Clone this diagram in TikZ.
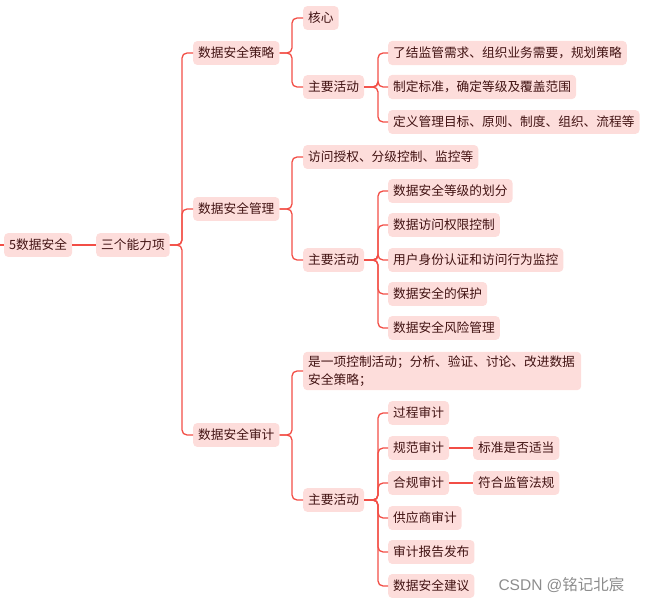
\documentclass[tikz,border=0pt]{standalone}
\usepackage{fontspec}
\setmainfont{Noto Sans CJK SC}
\usetikzlibrary{positioning}

\definecolor{linkred}{RGB}{242,78,70}
\definecolor{boxfill}{RGB}{253,221,219}
\definecolor{boxtext}{RGB}{65,18,18}

\tikzset{
	box/.style={fill=boxfill, rounded corners=4pt, anchor=west, text=boxtext,
		inner xsep=5pt, inner ysep=6pt, font=\fontsize{12.7}{17.5}\selectfont},
	link/.style={draw=linkred, line width=1.3pt, rounded corners=5pt}
}

\begin{document}
\begin{tikzpicture}[x=1pt,y=-1pt]
		\useasboundingbox (0,0) rectangle (646,604);
		% root and first level
		\node[box] (root) at (4,245) {5数据安全};
		\node[box] (cap) at (96,245) {三个能力项};
		\node[box] (s1) at (193,53) {数据安全策略};
		\node[box] (s2) at (193,209) {数据安全管理};
		\node[box] (s3) at (193,435) {数据安全审计};
		% 策略
		\node[box] (s1a) at (303,18) {核心};
		\node[box] (s1b) at (303,87) {主要活动};
		\node[box] (s1b1) at (388,53) {了结监管需求、组织业务需要，规划策略};
		\node[box] (s1b2) at (388,87) {制定标准，确定等级及覆盖范围};
		\node[box] (s1b3) at (388,122) {定义管理目标、原则、制度、组织、流程等};
		% 管理
		\node[box] (s2a) at (303,157) {访问授权、分级控制、监控等};
		\node[box] (s2b) at (303,260) {主要活动};
		\node[box] (s2b1) at (388,191) {数据安全等级的划分};
		\node[box] (s2b2) at (388,225) {数据访问权限控制};
		\node[box] (s2b3) at (388,260) {用户身份认证和访问行为监控};
		\node[box] (s2b4) at (388,294) {数据安全的保护};
		\node[box] (s2b5) at (388,328) {数据安全风险管理};
		% 审计
		\node[box, text width=268pt, align=left, inner ysep=4pt] (s3a) at (303,371)
			{是一项控制活动；分析、验证、讨论、改进数据\\安全策略；};
		\node[box] (s3b) at (303,500) {主要活动};
		\node[box] (s3b1) at (388,413) {过程审计};
		\node[box] (s3b2) at (388,448) {规范审计};
		\node[box] (s3b3) at (388,483) {合规审计};
		\node[box] (s3b4) at (388,518) {供应商审计};
		\node[box] (s3b5) at (388,552) {审计报告发布};
		\node[box] (s3b6) at (388,586) {数据安全建议};
		\node[box] (s3b2x) at (473,448) {标准是否适当};
		\node[box] (s3b3x) at (473,483) {符合监管法规};
		% junctions
		\coordinate (in) at (0,245);
		\coordinate (cap-j) at (182,245);
		\coordinate (s1-j) at (292,53);
		\coordinate (s1b-j) at (378,87);
		\coordinate (s2-j) at (292,209);
		\coordinate (s2b-j) at (378,260);
		\coordinate (s3-j) at (292,435);
		\coordinate (s3b-j) at (378,500);
		% connectors
		\draw[link] (in) -- (root.west);
		\draw[link] (root) -- (cap);
		\foreach \p/\c in {cap/s1,cap/s2,cap/s3,s1/s1a,s1/s1b,s1b/s1b1,s1b/s1b2,s1b/s1b3,
			s2/s2a,s2/s2b,s2b/s2b1,s2b/s2b2,s2b/s2b3,s2b/s2b4,s2b/s2b5,
			s3/s3a,s3/s3b,s3b/s3b1,s3b/s3b2,s3b/s3b3,s3b/s3b4,s3b/s3b5,s3b/s3b6}
			\draw[link] (\p.east) -- (\p-j) |- (\c.west);
		\draw[link] (s3b2) -- (s3b2x);
		\draw[link] (s3b3) -- (s3b3x);
		% watermark
		\node[anchor=west, text=black!45, font=\fontsize{15.5}{18}\selectfont\fontspec{Liberation Sans}] (mark) at (495,585) {CSDN @\fontspec{Noto Sans CJK SC}铭记北宸};
	\end{tikzpicture}
\end{document}
